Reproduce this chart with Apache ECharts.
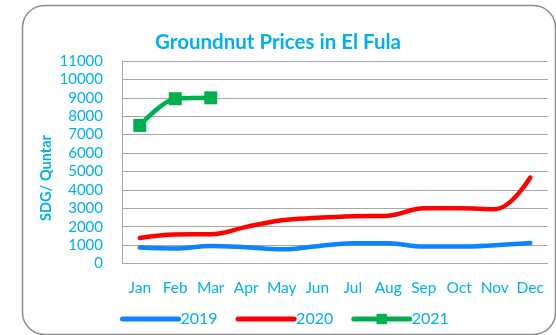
<!DOCTYPE html>
<html>
<head>
<meta charset="utf-8">
<script src="https://cdn.jsdelivr.net/npm/echarts@6/dist/echarts.min.js"></script>
<style>
  html, body { margin: 0; padding: 0; background: #fff; }
  #chart { width: 556px; height: 335px; }
</style>
</head>
<body>
<div id="chart"></div>
<script>
// Monthly groundnut prices (SDG per quntar)
const months = ['Jan', 'Feb', 'Mar', 'Apr', 'May', 'Jun', 'Jul', 'Aug', 'Sep', 'Oct', 'Nov', 'Dec'];
const prices2019 = [870, 820, 950, 880, 770, 940, 1100, 1100, 920, 920, 990, 1110];
const prices2020 = [1390, 1580, 1590, 1990, 2350, 2480, 2570, 2600, 3000, 3000, 2950, 4670];
const prices2021 = [7500, 8950, 9000];

const textColor = '#00B0F0';
const font = 'Lato, "Open Sans", sans-serif';

const chart = echarts.init(document.getElementById('chart'), null, { renderer: 'canvas' });

chart.setOption({
  animation: false,
  title: {
    text: 'Groundnut Prices in El Fula',
    left: 'center',
    top: 27,
    textStyle: { color: textColor, fontSize: 20.5, fontWeight: 'bold', fontFamily: font }
  },
  graphic: [
    {
      type: 'rect',
      shape: { x: 22.5, y: 5.5, width: 533, height: 329, r: 22 },
      style: { fill: 'none', stroke: '#8c8c8c', lineWidth: 1.5 },
      z: -1
    },
    {
      type: 'text',
      x: 46,
      y: 178,
      rotation: Math.PI / 2,
      style: {
        text: 'SDG/ Quntar',
        fill: textColor,
        font: 'bold 14.5px ' + font,
        align: 'center',
        verticalAlign: 'middle'
      }
    }
  ],
  grid: { left: 122, top: 61, width: 426, height: 202.5 },
  legend: {
    bottom: 3,
    left: 115,
    itemWidth: 56,
    itemHeight: 13,
    itemGap: 18,
    lineStyle: { width: 5, cap: 'round' },
    textStyle: { color: textColor, fontSize: 16, fontFamily: font, padding: [0, 0, 0, -3] },
    data: [
      // plain lines: keep the stroke, hide the marker
      { name: '2019', itemStyle: { opacity: 0 } },
      { name: '2020', itemStyle: { opacity: 0 } },
      { name: '2021' }
    ]
  },
  xAxis: {
    type: 'category',
    data: months,
    boundaryGap: true,
    axisLine: { show: false },
    axisTick: { show: false },
    axisLabel: { color: textColor, fontSize: 15.5, fontFamily: font, margin: 16, interval: 0 }
  },
  yAxis: {
    type: 'value',
    min: 0,
    max: 11000,
    interval: 1000,
    axisLine: { show: true, lineStyle: { color: '#a6a6a6', width: 1 } },
    axisTick: { show: false },
    axisLabel: { color: textColor, fontSize: 15, fontFamily: font, margin: 19, formatter: v => String(v) },
    splitLine: { lineStyle: { color: '#a6a6a6', width: 1 } }
  },
  series: [
    {
      name: '2019',
      type: 'line',
      data: prices2019,
      smooth: 0.4,
      symbol: 'none',
      lineStyle: { color: '#0A84FF', width: 4.5, cap: 'round' },
      itemStyle: { color: '#0A84FF' }
    },
    {
      name: '2020',
      type: 'line',
      data: prices2020,
      smooth: 0.4,
      symbol: 'none',
      lineStyle: { color: '#FF0000', width: 4.5, cap: 'round' },
      itemStyle: { color: '#FF0000' }
    },
    {
      name: '2021',
      type: 'line',
      data: prices2021,
      smooth: 0.3,
      symbol: 'rect',
      symbolSize: 13,
      lineStyle: { color: '#00B050', width: 4.5, cap: 'round' },
      itemStyle: { color: '#00B050' }
    }
  ]
});
</script>
</body>
</html>
